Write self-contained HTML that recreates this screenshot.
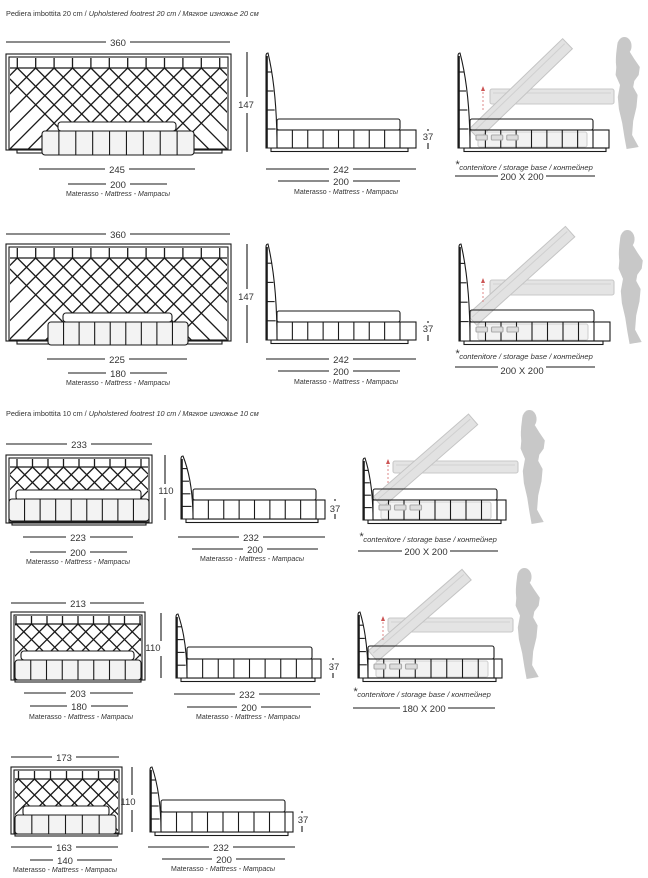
<!DOCTYPE html>
<html><head><meta charset="utf-8"><style>
html,body{margin:0;padding:0;background:#fff;width:648px;height:878px;overflow:hidden}
svg{display:block}
text{font-family:"Liberation Sans",sans-serif;fill:#333}
.t{font-size:7.3px}
.d{font-size:9.5px;text-anchor:middle}
.m{font-size:7px;text-anchor:middle}
.c{font-size:7.6px;font-style:italic}
</style></head><body>
<svg id="s" width="648" height="878" viewBox="0 0 648 878" xmlns="http://www.w3.org/2000/svg">
<g id="g"></g>
<g id="txt">
<text class="t" x="6" y="16">Pediera imbottita 20 cm / <tspan font-style="italic">Upholstered footrest 20 cm / Мягкое изножье 20 см</tspan></text>
<text class="t" x="6" y="416">Pediera imbottita 10 cm / <tspan font-style="italic">Upholstered footrest 10 cm / Мягкое изножье 10 см</tspan></text>

<text class="d" x="118" y="46">360</text>
<text class="d" x="117" y="173">245</text>
<text class="d" x="118" y="188">200</text>
<text class="m" x="118" y="196">Materasso - <tspan font-style="italic">Mattress - Матрасы</tspan></text>
<text class="d" x="246" y="108">147</text>
<text class="d" x="341" y="173">242</text>
<text class="d" x="341" y="185">200</text>
<text class="m" x="346" y="194">Materasso - <tspan font-style="italic">Mattress - Матрасы</tspan></text>
<text class="d" x="428" y="140">37</text>
<text class="c" x="455" y="170"><tspan font-size="11" dy="-2">*</tspan><tspan dy="2">contenitore / storage base / контейнер</tspan></text>
<text class="d" x="522" y="180">200 X 200</text>

<text class="d" x="118" y="238">360</text>
<text class="d" x="117" y="363">225</text>
<text class="d" x="118" y="377">180</text>
<text class="m" x="118" y="385">Materasso - <tspan font-style="italic">Mattress - Матрасы</tspan></text>
<text class="d" x="246" y="300">147</text>
<text class="d" x="341" y="363">242</text>
<text class="d" x="341" y="375">200</text>
<text class="m" x="346" y="384">Materasso - <tspan font-style="italic">Mattress - Матрасы</tspan></text>
<text class="d" x="428" y="332">37</text>
<text class="c" x="455" y="359"><tspan font-size="11" dy="-2">*</tspan><tspan dy="2">contenitore / storage base / контейнер</tspan></text>
<text class="d" x="522" y="374">200 X 200</text>

<text class="d" x="79" y="448">233</text>
<text class="d" x="78" y="541">223</text>
<text class="d" x="78" y="556">200</text>
<text class="m" x="78" y="564">Materasso - <tspan font-style="italic">Mattress - Матрасы</tspan></text>
<text class="d" x="166" y="494">110</text>
<text class="d" x="251" y="541">232</text>
<text class="d" x="255" y="553">200</text>
<text class="m" x="252" y="561">Materasso - <tspan font-style="italic">Mattress - Матрасы</tspan></text>
<text class="d" x="335" y="512">37</text>
<text class="c" x="359" y="542"><tspan font-size="11" dy="-2">*</tspan><tspan dy="2">contenitore / storage base / контейнер</tspan></text>
<text class="d" x="426" y="555">200 X 200</text>

<text class="d" x="78" y="607">213</text>
<text class="d" x="78" y="697">203</text>
<text class="d" x="79" y="710">180</text>
<text class="m" x="81" y="719">Materasso - <tspan font-style="italic">Mattress - Матрасы</tspan></text>
<text class="d" x="153" y="651">110</text>
<text class="d" x="247" y="698">232</text>
<text class="d" x="249" y="711">200</text>
<text class="m" x="248" y="719">Materasso - <tspan font-style="italic">Mattress - Матрасы</tspan></text>
<text class="d" x="334" y="670">37</text>
<text class="c" x="353" y="697"><tspan font-size="11" dy="-2">*</tspan><tspan dy="2">contenitore / storage base / контейнер</tspan></text>
<text class="d" x="424" y="712">180 X 200</text>

<text class="d" x="64" y="761">173</text>
<text class="d" x="64" y="851">163</text>
<text class="d" x="65" y="864">140</text>
<text class="m" x="65" y="872">Materasso - <tspan font-style="italic">Mattress - Матрасы</tspan></text>
<text class="d" x="128" y="805">110</text>
<text class="d" x="221" y="851">232</text>
<text class="d" x="224" y="863">200</text>
<text class="m" x="223" y="871">Materasso - <tspan font-style="italic">Mattress - Матрасы</tspan></text>
<text class="d" x="303" y="823">37</text>
</g>
</svg>
<script>
const NS='http://www.w3.org/2000/svg';
const G=document.getElementById('g');
function el(t,a,p){const e=document.createElementNS(NS,t);for(const k in a)e.setAttribute(k,a[k]);(p||G).appendChild(e);return e}
function L(x1,y1,x2,y2,c,w,p){el('line',{x1,y1,x2,y2,stroke:c||'#1a1a1a','stroke-width':w||1.1},p)}
function R(x,y,w,h,f,r,c){el('rect',{x,y,width:w,height:h,fill:f||'#fff',stroke:c||'#1a1a1a','stroke-width':1.1,rx:r||0})}
function hd(y,x1,x2,cx,g){L(x1,y,cx-g,y);L(cx+g,y,x2,y)}
function vd(x,y1,y2){L(x,y1,x,y2)}
function lattice(x,y,w,h,s,t){
  const sv=el('svg',{x,y,width:w,height:h,overflow:'hidden'});
  L(0,t,w,t,'#1a1a1a',1.3,sv);
  const n=Math.ceil(w/s)+2;
  for(let i=-1;i<n;i++){
    const vx=(w-Math.floor(w/s)*s)/2+s/2+i*s-s/2;
    L(vx,0,vx,t,'#1a1a1a',1.3,sv);
    L(vx,t,vx+(h),t+h,'#1a1a1a',1.3,sv);
    L(vx,t,vx-(h),t+h,'#1a1a1a',1.3,sv);
  }
}
function front(o){
  R(o.x1,o.y1,o.x2-o.x1,o.y2-o.y1);
  R(o.x1+3,o.y1+3,o.x2-o.x1-6,o.y2-o.y1-4);
  lattice(o.x1+4,o.y1+4,o.x2-o.x1-8,o.y2-o.y1-5,o.s,o.t);
  R(o.px1,o.y2,o.px2-o.px1,o.py-o.y2);
  R(o.u[0],o.u[1],o.u[2]-o.u[0],o.u[3]-o.u[1],'#fff',3);
  R(o.l[0],o.l[1],o.l[2]-o.l[0],o.l[3]-o.l[1],'#f3f3f3',3);
  const n=o.l[4],w=(o.l[2]-o.l[0])/n;
  for(let i=1;i<n;i++)L(o.l[0]+i*w,o.l[1],o.l[0]+i*w,o.l[3]);
}
function head(x0,yt,yb,w){
  el('path',{d:`M${x0} ${yb} L${x0} ${yt+3} Q${x0} ${yt} ${x0+2} ${yt} Q${x0+w} ${yt+(yb-yt)*0.4} ${x0+w} ${yb} Z`,fill:'#fff',stroke:'#1a1a1a','stroke-width':1.1});
  L(x0+1,yt+3,x0+1,yb,'#1a1a1a',1.6);
  const k=(yb-yt)/5;
  for(let i=1;i<5;i++){const y=yt+i*k;const f=Math.sqrt((y-yt)/(yb-yt));L(x0,y,x0+2+(w-2)*f*0.95,y)}
}
function side(o){
  R(o.px1,o.by2,o.px2-o.px1,3.5);
  R(o.hx+o.hw,o.m[1],o.m[2]-o.hx-o.hw,o.m[3]-o.m[1],'#fff',2);
  R(o.hx+o.hw,o.m[3],o.bx2-o.hx-o.hw,o.by2-o.m[3]);
  const n=o.n,w=(o.m[2]-o.hx-o.hw)/n;
  for(let i=1;i<=n;i++)L(o.hx+o.hw+i*w,o.m[3],o.hx+o.hw+i*w,o.by2);
  head(o.hx,o.ht,o.by2,o.hw);
}
function fig(x,y,w,h){
  const sx=w/30,sy=h/113;
  const p=[[11,15],[19,15],[23,22],[28,30],[27,38],[23,44],[22,50],[26,58],[25,70],[22,84],[21,98],[27,110],[16,112],[14,100],[12,86],[9,72],[8,60],[10,48],[6,38],[7,26],[10,20]];
  el('polygon',{points:p.map(q=>(x+q[0]*sx)+','+(y+q[1]*sy)).join(' '),fill:'#c8c8c8'});
  el('ellipse',{cx:x+14*sx,cy:y+9*sy,rx:6.5*sx,ry:9*sy,fill:'#c8c8c8'});
  el('path',{d:`M${x+8*sx} ${y+5*sy} Q${x+4*sx} ${y+30*sy} ${x+9*sx} ${y+36*sy} L${x+12*sx} ${y+16*sy} Z`,fill:'#c8c8c8'});
}
function storage(o){
  fig(o.fx,o.fy,o.fw,o.fh);
  R(o.m[0]+8,o.m[3]+2,o.m[2]-o.m[0]-14,o.by2-o.m[3]-3,'#f2f2f2',2,'#d0d0d0');
  R(o.hm[0],o.hm[1],o.hm[2]-o.hm[0],o.hm[3]-o.hm[1],'#e4e4e4',2,'#c8c8c8');
  L(o.hm[0]+3,o.hm[1]+4,o.hm[2]-3,o.hm[1]+4,'#d2d2d2',1);
  const g=el('g',{transform:`translate(${o.d[0]},${o.d[1]}) rotate(${o.d[2]})`});
  el('rect',{x:0,y:-7,width:o.d[3],height:14,fill:'#e2e2e2',stroke:'#c4c4c4','stroke-width':1},g);
  el('line',{x1:2,y1:-2,x2:o.d[3]-2,y2:-2,stroke:'#d0d0d0'},g);
  el('line',{x1:o.r[0],y1:o.r[1],x2:o.r[0],y2:o.r[1]+22,stroke:'#d88','stroke-width':1,'stroke-dasharray':'2 2'});
  el('path',{d:`M${o.r[0]-2} ${o.r[1]+3} L${o.r[0]} ${o.r[1]-2} L${o.r[0]+2} ${o.r[1]+3} Z`,fill:'#c55'});
  el('rect',{x:o.px1,y:o.by2,width:o.px2-o.px1,height:3.5,fill:'none',stroke:'#1a1a1a','stroke-width':1.1});
  el('rect',{x:o.hx+o.hw,y:o.m[1],width:o.m[2]-o.hx-o.hw,height:o.m[3]-o.m[1],fill:'none',stroke:'#1a1a1a','stroke-width':1.1,rx:2});
  el('rect',{x:o.hx+o.hw,y:o.m[3],width:o.bx2-o.hx-o.hw,height:o.by2-o.m[3],fill:'none',stroke:'#1a1a1a','stroke-width':1.1});
  const n=o.n,w=(o.m[2]-o.hx-o.hw)/n;
  for(let i=1;i<=n;i++)L(o.hx+o.hw+i*w,o.m[3],o.hx+o.hw+i*w,o.by2);
  for(let i=0;i<3;i++)R(o.hx+o.hw+6+i*w,o.m[3]+5,w-4,5,'#ddd',1,'#aaa');
  head(o.hx,o.ht,o.by2,o.hw);
}

hd(42,6,230,118,12);
front({x1:6,x2:231,y1:54,y2:150,s:18.4,t:10,px1:17,px2:222,py:153,u:[58,122,176,131],l:[42,131,194,155,9]});
hd(169,39,195,117,12);hd(184,68,167,118,12);
vd(247,52,97);vd(247,113,152);
side({hx:266,hw:11,ht:53,by2:148,m:[277,119,400,130],bx2:416,n:8,px1:271,px2:408});
hd(169,266,416,341,12);hd(181,278,400,341,12);
vd(428,129,131);vd(428,143,149);
storage({hx:458,hw:12,ht:53,by2:148,m:[470,119,593,130],bx2:609,n:8,px1:464,px2:606,hm:[490,89,614,104],d:[474,134,-44,130],r:[483,88],fx:609,fy:37,fw:33,fh:113});
hd(176,455,595,522,24);

hd(234,6,230,118,12);
front({x1:6,x2:231,y1:244,y2:341,s:18.4,t:10,px1:17,px2:222,py:344,u:[63,313,172,322],l:[48,322,188,345,9]});
hd(359,47,187,117,12);hd(373,68,167,118,12);
vd(247,244,289);vd(247,305,343);
side({hx:266,hw:11,ht:244,by2:340,m:[277,311,400,322],bx2:416,n:8,px1:271,px2:408});
hd(359,266,416,341,12);hd(371,278,400,341,12);
vd(428,321,323);vd(428,335,341);
storage({hx:459,hw:11,ht:244,by2:341,m:[470,310,594,322],bx2:610,n:8,px1:464,px2:603,hm:[490,280,614,295],d:[472,320,-42,132],r:[483,280],fx:612,fy:230,fw:33,fh:115});
hd(367,455,595,522,24);

hd(444,6,152,79,12);
front({x1:6,x2:152,y1:455,y2:523,s:15.5,t:8,px1:12,px2:146,py:525,u:[16,490,141,500],l:[9,499,149,521,9]});
hd(537,23,133,78,12);hd(552,30,127,78,12);
vd(165,455,484);vd(165,498,520);
side({hx:181,hw:12,ht:456,by2:519,m:[193,489,316,500],bx2:325,n:8,px1:186,px2:318});
hd(537,178,325,251,12);hd(549,192,318,255,12);
vd(335,499,501);vd(335,514,519);
storage({hx:363,hw:10,ht:458,by2:520,m:[373,489,497,500],bx2:506,n:8,px1:368,px2:501,hm:[393,461,518,473],d:[378,502,-41,126],r:[388,461],fx:514,fy:410,fw:33,fh:115});
hd(551,358,498,426,24);

hd(603,11,144,78,12);
front({x1:11,x2:145,y1:612,y2:680,s:15.5,t:8,px1:15,px2:141,py:682,u:[21,651,134,660],l:[15,660,141,680,8]});
hd(693,24,133,78,12);hd(706,30,128,79,12);
vd(161,613,641);vd(161,656,678);
side({hx:176,hw:11,ht:614,by2:678,m:[187,647,312,659],bx2:321,n:8,px1:181,px2:315});
hd(694,174,320,247,12);hd(707,187,311,249,12);
vd(333,658,660);vd(333,673,678);
storage({hx:358,hw:10,ht:612,by2:678,m:[368,646,494,659],bx2:502,n:8,px1:363,px2:496,hm:[388,618,513,632],d:[373,656,-41,124],r:[383,618],fx:509,fy:568,fw:33,fh:112});
hd(708,353,495,424,24);

hd(757,11,119,64,12);
front({x1:11,x2:122,y1:767,y2:834,s:16,t:8,px1:15,px2:118,py:836,u:[23,806,109,816],l:[15,815,116,834,6]});
hd(847,11,118,64,12);hd(860,30,112,65,12);
vd(132,767,795);vd(132,810,832);
side({hx:150,hw:11,ht:767,by2:832,m:[160,800,285,812],bx2:293,n:8,px1:155,px2:288});
hd(847,148,295,221,12);hd(859,162,285,224,12);
vd(302,811,813);vd(302,826,832);
</script>
</body></html>
